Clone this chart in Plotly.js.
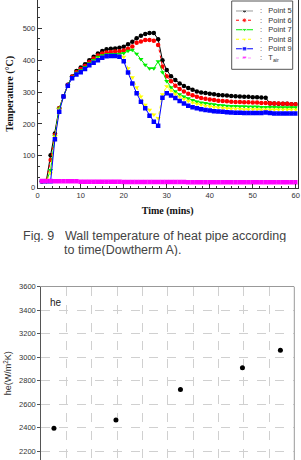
<!DOCTYPE html>
<html>
<head>
<meta charset="utf-8">
<script src="https://cdn.plot.ly/plotly-3.0.1.min.js"></script>
<style>
  html, body { margin: 0; padding: 0; background: #fff; }
  #chart { width: 301px; height: 460px; }
</style>
</head>
<body>
<div id="chart"></div>
<script>
// Wall temperature of the heat pipe (Dowtherm A), one reading per minute
const timeMin = [1,2,3,4,5,6,7,8,9,10,11,12,13,14,15,16,17,18,19,20,
  21,22,23,24,25,26,27,28,29,30,31,32,33,34,35,36,37,38,39,40,
  41,42,43,44,45,46,47,48,49,50,51,52,53,54,55,56,57,58,59,60];

const point5 = [20,21,102,170,249,287,323,349,366,377,387,400,411,421,429,434,436,437,439,442,
  450,458,469,477,482,485,485,466,400,369,350,338,327,319,313,307,302,299,297,295,
  293,291,290,289,288,287,286,285,285,284,284,283,282,264,264,263,263,263,262,262];

const point6 = [20,21,87,165,249,286,322,348,362,372,382,394,405,415,421,424,426,427,428,430,
  436,443,455,459,463,463,461,448,380,350,334,320,310,302,295,290,285,281,279,277,
  275,273,272,271,270,269,269,268,268,267,267,266,266,265,264,264,263,263,262,262];

const point7 = [20,20,55,162,248,286,322,347,360,368,378,390,400,410,415,418,419,419,420,422,
  429,432,420,403,385,374,374,396,362,334,315,302,293,286,280,275,270,267,265,263,
  261,259,258,257,256,256,255,255,254,254,254,253,253,253,253,252,252,252,252,252];

const point8 = [20,20,45,160,245,286,321,345,357,365,374,386,395,404,410,414,415,415,414,410,
  374,346,315,286,260,244,229,218,293,318,305,294,285,278,272,267,263,260,257,255,
  253,251,250,249,248,247,247,246,246,246,246,245,245,245,245,245,245,245,245,245];

const point9 = [20,20,20,152,238,286,320,343,355,362,372,384,392,400,408,412,413,413,411,397,
  361,327,296,270,249,226,207,194,282,296,289,281,272,264,257,252,249,246,244,242,
  240,239,238,237,236,235,235,234,234,234,234,234,236,234,233,233,233,233,233,233];

const tAir = [21,21,21,20,20,20,20,20,20,19,19,19,19,19,19,19,19,19,19,18,
  18,18,18,18,18,18,18,18,18,18,18,18,18,18,17,17,17,17,17,17,
  17,17,17,17,17,17,17,17,17,17,17,17,17,17,17,17,17,17,17,17];

const seriesNames = ['Point 5', 'Point 6', 'Point 7', 'Point 8', 'Point 9', 'T<sub>air</sub>'];
const seriesValues = [point5, point6, point7, point8, point9, tAir];

// Heat transfer coefficient he (W/m²K)
const heX = [0.5, 2.95, 5.5, 7.95, 9.45];
const heVal = [2395, 2465, 2725, 2910, 3060];

const tempTicks = [0, 100, 200, 300, 400, 500];
const timeTicks = [0, 10, 20, 30, 40, 50, 60];

// styling per series
const seriesStyle = [
  { color: '#000000', dash: 'solid', symbol: 'circle' },
  { color: '#ff0000', dash: 'dot',   symbol: 'circle' },
  { color: '#00ee00', dash: 'solid', symbol: 'triangle-down' },
  { color: '#ffff00', dash: 'dot',   symbol: 'triangle-down' },
  { color: '#0000ff', dash: 'solid', symbol: 'square' },
  { color: '#ff00ff', dash: 'dot',   symbol: 'square' }
];

const W = 301, H = 460;
const px = x => x / W;
const py = y => (H - y) / H;

const sans = 'Liberation Sans, Arial, sans-serif';
const serif = 'Liberation Serif, Times New Roman, serif';

const traces = [];
seriesValues.forEach((vals, i) => {
  const st = seriesStyle[i];
  traces.push({
    type: 'scatter', mode: 'lines+markers',
    x: timeMin, y: vals, xaxis: 'x', yaxis: 'y',
    name: seriesNames[i],
    line: { color: st.color, width: 1, dash: st.dash },
    marker: { color: st.color, size: 4.5, symbol: st.symbol },
    hoverinfo: 'skip'
  });
});

// key samples: a short line with one marker in the middle
const keyX = [0, 1, 2];
seriesNames.forEach((nm, i) => {
  const st = seriesStyle[i];
  traces.push({
    type: 'scatter', mode: 'lines+markers',
    x: keyX, y: keyX.map(() => i), xaxis: 'x3', yaxis: 'y3',
    line: { color: st.color, width: 1, dash: st.dash },
    marker: { color: st.color, size: [0, 4.5, 0], symbol: st.symbol },
    hoverinfo: 'skip'
  });
});

traces.push({
  type: 'scatter', mode: 'markers',
  x: heX, y: heVal, xaxis: 'x2', yaxis: 'y2',
  marker: { color: '#000', size: 5 },
  hoverinfo: 'skip'
});

const annotations = [];
seriesNames.forEach((nm, i) => {
  annotations.push({ xref: 'paper', yref: 'y3', x: px(257.5), y: i, text: ':&nbsp;&nbsp;&nbsp;' + nm,
    showarrow: false, xanchor: 'left', yanchor: 'middle',
    font: { family: sans, size: 7.5, color: '#333' } });
});

const capFont = { family: sans, size: 12.5, color: '#444' };
annotations.push(
  { xref: 'paper', yref: 'paper', x: px(21), y: py(236), text: 'Fig. 9', showarrow: false,
    xanchor: 'left', yanchor: 'middle', height: 13, font: capFont },
  { xref: 'paper', yref: 'paper', x: px(63), y: py(236), text: 'Wall temperature of heat pipe according',
    showarrow: false, xanchor: 'left', yanchor: 'middle', height: 13, font: capFont },
  { xref: 'paper', yref: 'paper', x: px(62), y: py(249), text: 'to time(Dowtherm A).',
    showarrow: false, xanchor: 'left', yanchor: 'middle', height: 13, font: capFont },
  { xref: 'paper', yref: 'paper', x: px(48), y: py(302.7), text: 'he', showarrow: false,
    xanchor: 'left', yanchor: 'middle', font: { family: sans, size: 10, color: '#222' } }
);

const layout = {
  width: W, height: H,
  margin: { l: 0, r: 0, t: 0, b: 0 },
  showlegend: false,
  paper_bgcolor: '#fff', plot_bgcolor: 'rgba(0,0,0,0)',
  xaxis: {
    anchor: 'y', domain: [px(37.7), px(297.5)], range: [0, 60.4],
    tickvals: timeTicks, ticks: 'inside', ticklen: 4, tickcolor: '#333',
    minor: { dtick: 10 / 6, tick0: 0, ticks: 'inside', ticklen: 2, tickcolor: '#333', showgrid: false },
    showline: true, linecolor: '#333', linewidth: 1, mirror: false,
    showgrid: false, zeroline: false, automargin: false,
    tickfont: { family: sans, size: 7.5, color: '#333' },
    title: { text: 'Time (mins)', standoff: 8,
      font: { family: serif, size: 10, color: '#111', weight: 'bold' } }
  },
  yaxis: {
    anchor: 'x', domain: [py(187.7), 1], range: [0, 588.8],
    tickvals: tempTicks, ticks: 'inside', ticklen: 4, tickcolor: '#333',
    minor: { dtick: 100 / 3, tick0: 0, ticks: 'inside', ticklen: 2, tickcolor: '#333', showgrid: false },
    showline: true, linecolor: '#333', linewidth: 1, mirror: true,
    showgrid: false, zeroline: false, automargin: false,
    tickfont: { family: sans, size: 7.5, color: '#333' },
    title: { text: 'Temperature (°C)', standoff: 7,
      font: { family: serif, size: 10, color: '#111', weight: 'bold' } }
  },
  xaxis2: {
    anchor: 'y2', domain: [px(41.3), px(294.3)], range: [0, 10],
    dtick: 1, tick0: 0, showticklabels: false, ticks: '',
    showgrid: true, gridcolor: '#d0d0d0', griddash: 'dash', gridwidth: 1,
    showline: true, linecolor: '#999', mirror: true, zeroline: false, automargin: false
  },
  yaxis2: {
    anchor: 'x2', domain: [0, py(286.7)], range: [2125, 3600],
    dtick: 200, tick0: 0, ticks: 'outside', ticklen: 3, tickcolor: '#555',
    showgrid: true, gridcolor: '#d0d0d0', griddash: 'dash', gridwidth: 1,
    showline: true, linecolor: '#555', zeroline: false, automargin: false,
    tickfont: { family: sans, size: 7.5, color: '#333' },
    title: { text: 'he(W/m<sup>2</sup>K)', standoff: 5,
      font: { family: sans, size: 9, color: '#333' } }
  },
  xaxis3: { anchor: 'y3', domain: [px(236), px(253)], range: [0, 2], visible: false, fixedrange: true },
  yaxis3: { anchor: 'x3', domain: [py(58.3), py(10.7)], range: [5, 0], visible: false, fixedrange: true },
  shapes: [
    { type: 'rect', xref: 'paper', yref: 'paper', layer: 'below',
      x0: px(231.7), x1: px(292.7), y0: py(69.3), y1: py(1),
      line: { color: '#555', width: 1 }, fillcolor: '#fff' },
    { type: 'line', xref: 'paper', yref: 'paper',
      x0: px(294.3), x1: px(294.3), y0: 0, y1: py(286.7),
      line: { color: '#999', width: 1 } }
  ],
  annotations: annotations
};

Plotly.newPlot('chart', traces, layout, { staticPlot: true, displayModeBar: false });
</script>
</body>
</html>
